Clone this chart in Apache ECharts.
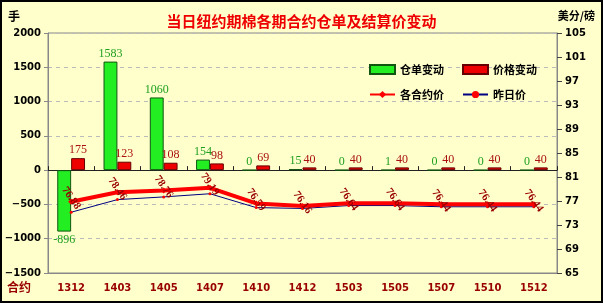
<!DOCTYPE html>
<html><head><meta charset="utf-8">
<script src="https://cdn.jsdelivr.net/npm/echarts@6/dist/echarts.min.js"></script>
<style>html,body{margin:0;padding:0;background:#FFFFCC;}#c{width:603px;height:303px;}</style>
</head><body><div id="c"></div>
<script>
const categories = ['1312','1403','1405','1407','1410','1412','1503','1505','1507','1510','1512'];
const warrantChange = [-896, 1583, 1060, 154, 0, 15, 0, 1, 0, 0, 0];
const priceChange = [175, 123, 108, 98, 69, 40, 40, 40, 40, 40, 40];
const contractPrice = [76.88, 78.46, 78.76, 79.19, 76.59, 76.16, 76.64, 76.64, 76.44, 76.44, 76.44];
const yesterdayPrice = [75.13, 77.23, 77.68, 78.21, 75.90, 75.76, 76.24, 76.24, 76.04, 76.04, 76.04];
const leftTicks = {min: -1500, max: 2000, interval: 500};
const PRICE_BASE = 65;
const rightTicks = {min: 65, max: 105, interval: 4};

const chart = echarts.init(document.getElementById('c'));
const boldTick = {fontFamily: 'DejaVu Sans', fontWeight: 'bold', fontSize: 10, color: '#000'};
const legendText = {fontFamily: 'Noto Sans CJK SC', fontWeight: 'bold', fontSize: 11, color: '#000'};
chart.setOption({
  backgroundColor: '#FFFFCC',
  animation: false,
  title: {text: '当日纽约期棉各期合约仓单及结算价变动', left: 'center', top: 9,
    textStyle: {fontFamily: 'Noto Sans CJK SC', fontWeight: 'bold', fontSize: 15, color: '#EE0000'}},
  graphic: [
    {type: 'rect', shape: {x: 1, y: 1, width: 601, height: 301}, style: {fill: 'none', stroke: '#000', lineWidth: 2}},
    {type: 'text', left: 8, top: 10, style: {text: '手', font: 'bold 12px "Noto Sans CJK SC"', fill: '#000'}},
    {type: 'text', right: 8, top: 10, style: {text: '美分/磅', font: 'bold 11px "Noto Sans CJK SC"', fill: '#000'}},
    {type: 'text', left: 7, top: 281, style: {text: '合约', font: 'bold 12px "Noto Sans CJK SC"', fill: '#990000'}}
  ],
  legend: [
    {data: [{name: '仓单变动', icon: 'rect'}, {name: '价格变动', icon: 'rect'}], left: 364, top: 59, itemWidth: 25, itemHeight: 9, itemGap: 18,
      textStyle: legendText},
    {data: ['各合约价', '昨日价'], left: 364, top: 84, itemWidth: 25, itemHeight: 9, itemGap: 18,
      textStyle: legendText}
  ],
  grid: {left: 48, right: 46, top: 33, bottom: 30, show: true, borderColor: '#888', borderWidth: 1, backgroundColor: 'transparent'},
  xAxis: [
    {type: 'category', data: categories, position: 'bottom', axisLine: {onZero: false, lineStyle: {color: '#888'}},
      axisTick: {show: false}, axisLabel: {margin: 10, fontFamily: 'DejaVu Sans', fontWeight: 'bold', fontSize: 10, color: '#990000'}},
    {type: 'category', data: categories, position: 'bottom', axisLine: {onZero: true, onZeroAxisIndex: 0, lineStyle: {color: '#222'}},
      axisTick: {show: true, inside: true, length: 4, lineStyle: {color: '#222'}}, axisLabel: {show: false}}
  ],
  yAxis: [
    {type: 'value', min: leftTicks.min, max: leftTicks.max, interval: leftTicks.interval,
      axisLine: {show: true, lineStyle: {color: '#888'}}, axisTick: {show: true, length: 4, lineStyle: {color: '#888'}},
      axisLabel: Object.assign({margin: 7, formatter: v => String(v).replace('-', '−')}, boldTick),
      splitLine: {show: true, lineStyle: {type: [4, 4], color: '#bbb'}}},
    {type: 'value', min: rightTicks.min - PRICE_BASE, max: rightTicks.max - PRICE_BASE, interval: rightTicks.interval,
      axisLine: {show: true, lineStyle: {color: '#888'}}, axisTick: {show: true, length: 5, lineStyle: {color: '#444'}},
      axisLabel: Object.assign({margin: 8, formatter: v => String(v + PRICE_BASE)}, boldTick),
      splitLine: {show: false}}
  ],
  series: [
    {name: '仓单变动', type: 'bar', xAxisIndex: 0, yAxisIndex: 0, barGap: '0%', barCategoryGap: '40%',
      itemStyle: {color: '#22EE22', borderColor: '#115511', borderWidth: 1},
      label: {show: true, position: 'top', distance: 2, fontFamily: 'Liberation Serif', fontSize: 12, color: '#1FA01F'},
      data: warrantChange.map(v => v < 0 ? {value: v, label: {position: 'bottom'}} : v)},
    {name: '价格变动', type: 'bar', xAxisIndex: 0, yAxisIndex: 0,
      itemStyle: {color: '#EE0000', borderColor: '#660000', borderWidth: 1},
      label: {show: true, position: 'top', distance: 2, fontFamily: 'Liberation Serif', fontSize: 12, color: '#AA1111'},
      data: priceChange},
    {name: '昨日价', type: 'line', xAxisIndex: 0, yAxisIndex: 1, z: 3,
      lineStyle: {color: '#000080', width: 1}, itemStyle: {color: '#FF0000'}, symbol: 'circle', symbolSize: 3,
      data: yesterdayPrice.map(v => v - PRICE_BASE)},
    {name: '各合约价', type: 'line', xAxisIndex: 0, yAxisIndex: 1, z: 4,
      lineStyle: {color: '#FF0000', width: 4}, itemStyle: {color: '#FF0000'}, symbol: 'diamond', symbolSize: 6,
      label: {show: true, position: 'inside', offset: [-3, -2], rotate: -55, fontFamily: 'Liberation Serif', fontWeight: 'bold', fontSize: 11, color: '#990000',
        formatter: p => contractPrice[p.dataIndex].toFixed(2)},
      data: contractPrice.map(v => v - PRICE_BASE)}
  ]
});
</script></body></html>
